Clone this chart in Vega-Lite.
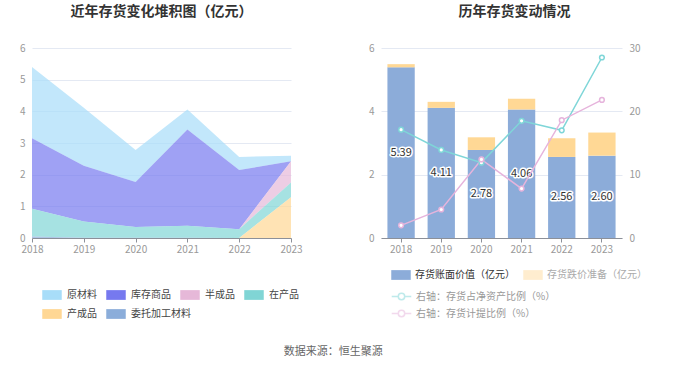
{
  "$schema": "https://vega.github.io/schema/vega-lite/v6.json",
  "autosize": {"type": "pad"},
  "padding": {"left": 19, "top": 5, "right": 0, "bottom": 0},
  "bounds": "flush",
  "spacing": 90,
  "background": "white",
  "resolve": {"scale": {"color": "independent", "stroke": "independent", "fill": "independent"}, "legend": {"color": "independent", "stroke": "independent", "fill": "independent"}},
  "config": {
    "font": "Noto Sans CJK SC",
    "view": {"stroke": null},
    "axis": {"labelColor": "#999999", "labelFontSize": 10, "domain": false, "ticks": false, "gridColor": "#e4e9f3", "title": null, "labelPadding": 7},
    "axisX": {"domain": true, "domainColor": "#8c9099", "ticks": true, "tickColor": "#8c9099", "tickSize": 4, "labelPadding": 2, "labelAngle": 0, "grid": false},
    "legend": {"labelFontSize": 10, "labelColor": "#444444", "title": null}
  },
  "title": {"text": "数据来源：恒生聚源", "orient": "bottom", "anchor": "middle", "fontSize": 11, "fontWeight": "normal", "color": "#666666", "offset": 26},
  "datasets": {
    "stock": [
      {"year": "2018", "type": "原材料", "value": 2.25},
      {"year": "2018", "type": "库存商品", "value": 2.23},
      {"year": "2018", "type": "半成品", "value": 0},
      {"year": "2018", "type": "在产品", "value": 0.87},
      {"year": "2018", "type": "产成品", "value": 0},
      {"year": "2018", "type": "委托加工材料", "value": 0.05},
      {"year": "2019", "type": "原材料", "value": 1.83},
      {"year": "2019", "type": "库存商品", "value": 1.76},
      {"year": "2019", "type": "半成品", "value": 0},
      {"year": "2019", "type": "在产品", "value": 0.51},
      {"year": "2019", "type": "产成品", "value": 0},
      {"year": "2019", "type": "委托加工材料", "value": 0.01},
      {"year": "2020", "type": "原材料", "value": 1.01},
      {"year": "2020", "type": "库存商品", "value": 1.42},
      {"year": "2020", "type": "半成品", "value": 0},
      {"year": "2020", "type": "在产品", "value": 0.34},
      {"year": "2020", "type": "产成品", "value": 0},
      {"year": "2020", "type": "委托加工材料", "value": 0.01},
      {"year": "2021", "type": "原材料", "value": 0.63},
      {"year": "2021", "type": "库存商品", "value": 3.04},
      {"year": "2021", "type": "半成品", "value": 0},
      {"year": "2021", "type": "在产品", "value": 0.38},
      {"year": "2021", "type": "产成品", "value": 0},
      {"year": "2021", "type": "委托加工材料", "value": 0.01},
      {"year": "2022", "type": "原材料", "value": 0.41},
      {"year": "2022", "type": "库存商品", "value": 1.87},
      {"year": "2022", "type": "半成品", "value": 0},
      {"year": "2022", "type": "在产品", "value": 0.28},
      {"year": "2022", "type": "产成品", "value": 0},
      {"year": "2022", "type": "委托加工材料", "value": 0},
      {"year": "2023", "type": "原材料", "value": 0.18},
      {"year": "2023", "type": "库存商品", "value": 0},
      {"year": "2023", "type": "半成品", "value": 0.67},
      {"year": "2023", "type": "在产品", "value": 0.46},
      {"year": "2023", "type": "产成品", "value": 1.29},
      {"year": "2023", "type": "委托加工材料", "value": 0}
    ],
    "bars": [
      {"year": "2018", "item": "存货账面价值（亿元）", "value": 5.39},
      {"year": "2018", "item": "存货跌价准备（亿元）", "value": 0.10},
      {"year": "2019", "item": "存货账面价值（亿元）", "value": 4.11},
      {"year": "2019", "item": "存货跌价准备（亿元）", "value": 0.19},
      {"year": "2020", "item": "存货账面价值（亿元）", "value": 2.78},
      {"year": "2020", "item": "存货跌价准备（亿元）", "value": 0.40},
      {"year": "2021", "item": "存货账面价值（亿元）", "value": 4.06},
      {"year": "2021", "item": "存货跌价准备（亿元）", "value": 0.34},
      {"year": "2022", "item": "存货账面价值（亿元）", "value": 2.56},
      {"year": "2022", "item": "存货跌价准备（亿元）", "value": 0.59},
      {"year": "2023", "item": "存货账面价值（亿元）", "value": 2.60},
      {"year": "2023", "item": "存货跌价准备（亿元）", "value": 0.73}
    ],
    "ratios": [
      {"year": "2018", "series": "右轴：存货占净资产比例（%）", "value": 17.1},
      {"year": "2019", "series": "右轴：存货占净资产比例（%）", "value": 13.9},
      {"year": "2020", "series": "右轴：存货占净资产比例（%）", "value": 11.9},
      {"year": "2021", "series": "右轴：存货占净资产比例（%）", "value": 18.5},
      {"year": "2022", "series": "右轴：存货占净资产比例（%）", "value": 17.0},
      {"year": "2023", "series": "右轴：存货占净资产比例（%）", "value": 28.5},
      {"year": "2018", "series": "右轴：存货计提比例（%）", "value": 2.0},
      {"year": "2019", "series": "右轴：存货计提比例（%）", "value": 4.5},
      {"year": "2020", "series": "右轴：存货计提比例（%）", "value": 12.4},
      {"year": "2021", "series": "右轴：存货计提比例（%）", "value": 7.8},
      {"year": "2022", "series": "右轴：存货计提比例（%）", "value": 18.6},
      {"year": "2023", "series": "右轴：存货计提比例（%）", "value": 21.8}
    ]
  },
  "hconcat": [
    {
      "width": 259,
      "height": 190,
      "title": {"text": "近年存货变化堆积图（亿元）", "anchor": "middle", "frame": "group", "fontSize": 14, "fontWeight": "bold", "color": "#333333", "offset": 24},
      "data": {"name": "stock"},
      "layer": [
        {
          "transform": [
            {"calculate": "indexof(['原材料','库存商品','半成品','在产品','产成品','委托加工材料'], datum.type)", "as": "ord"}
          ],
          "mark": {"type": "area", "opacity": 0.7},
          "encoding": {
            "x": {"field": "year", "type": "ordinal", "scale": {"type": "point", "padding": 0}},
            "y": {"field": "value", "type": "quantitative", "stack": "zero", "scale": {"domain": [0, 6]}, "axis": {"values": [0, 1, 2, 3, 4, 5, 6], "grid": true, "labelOverlap": false}},
            "fill": {
              "field": "type", "type": "nominal",
              "scale": {"domain": ["原材料", "库存商品", "半成品", "在产品", "产成品", "委托加工材料"], "range": ["#a8ddf9", "#7679ef", "#e6b8d8", "#80d5d5", "#ffd794", "#8badda"]},
              "legend": {"values": ["原材料", "库存商品", "半成品", "在产品"], "orient": "none", "legendX": 10, "legendY": 237, "direction": "horizontal", "columnPadding": 9, "labelOffset": 5, "symbolType": "M-1,-0.5H1V0.5H-1Z", "symbolSize": 380, "symbolOpacity": 1, "symbolStrokeWidth": 0}
            },
            "order": {"field": "ord", "sort": "descending"}
          }
        },
        {
          "transform": [
            {"filter": "datum.type === '产成品' || datum.type === '委托加工材料'"}
          ],
          "mark": {"type": "point", "filled": true, "opacity": 0},
          "encoding": {
            "x": {"field": "year", "type": "ordinal"},
            "y": {"field": "value", "type": "quantitative", "stack": null, "axis": {"values": [0, 1, 2, 3, 4, 5, 6], "grid": true, "labelOverlap": false}},
            "color": {
              "field": "type", "type": "nominal",
              "scale": {"domain": ["产成品", "委托加工材料"], "range": ["#ffd794", "#8badda"]},
              "legend": {"orient": "none", "legendX": 10, "legendY": 256, "direction": "horizontal", "columnPadding": 9, "labelOffset": 5, "symbolType": "M-1,-0.5H1V0.5H-1Z", "symbolSize": 380, "symbolOpacity": 1, "symbolStrokeWidth": 0}
            }
          }
        }
      ],
      "resolve": {"legend": {"color": "independent", "fill": "independent"}}
    },
    {
      "width": 241,
      "height": 190,
      "title": {"text": "历年存货变动情况", "anchor": "middle", "frame": "group", "fontSize": 14, "fontWeight": "bold", "color": "#333333", "offset": 24, "dx": 13},
      "layer": [
        {
          "data": {"name": "bars"},
          "layer": [
            {
              "mark": {"type": "bar"},
              "encoding": {
                "x": {"field": "year", "type": "ordinal", "scale": {"paddingInner": 0.32, "paddingOuter": 0.16}},
                "y": {"field": "value", "type": "quantitative", "stack": "zero", "scale": {"domain": [0, 6]}, "axis": {"values": [0, 2, 4, 6], "grid": true}},
                "color": {
                  "field": "item", "type": "nominal",
                  "scale": {"domain": ["存货账面价值（亿元）", "存货跌价准备（亿元）"], "range": ["#8cacd9", "#ffd895"]},
                  "legend": {"orient": "none", "legendX": 10, "legendY": 217, "direction": "horizontal", "columnPadding": 8, "labelOffset": 4, "symbolType": "M-1,-0.5H1V0.5H-1Z", "symbolSize": 380, "symbolStrokeWidth": 0,
                    "labelColor": {"expr": "datum.index === 0 ? '#333333' : '#aaaaaa'"},
                    "symbolOpacity": {"expr": "datum.index === 0 ? 1 : 0.45"}}
                },
                "order": {"field": "item", "sort": "ascending"}
              }
            },
            {
              "transform": [
                {"filter": "datum.item === '存货账面价值（亿元）'"},
                {"calculate": "datum.value / 2", "as": "mid"}
              ],
              "mark": {"type": "text", "fontSize": 11, "stroke": "white", "strokeWidth": 3, "strokeJoin": "round", "fill": "white"},
              "encoding": {
                "x": {"field": "year", "type": "ordinal"},
                "y": {"field": "mid", "type": "quantitative"},
                "text": {"field": "value", "type": "quantitative", "format": ".2f"}
              }
            },
            {
              "transform": [
                {"filter": "datum.item === '存货账面价值（亿元）'"},
                {"calculate": "datum.value / 2", "as": "mid"}
              ],
              "mark": {"type": "text", "fontSize": 11, "fill": "#333333"},
              "encoding": {
                "x": {"field": "year", "type": "ordinal"},
                "y": {"field": "mid", "type": "quantitative"},
                "text": {"field": "value", "type": "quantitative", "format": ".2f"}
              }
            }
          ]
        },
        {
          "data": {"name": "ratios"},
          "layer": [
            {
              "mark": {"type": "line", "strokeWidth": 1.5},
              "encoding": {
                "x": {"field": "year", "type": "ordinal"},
                "y": {"field": "value", "type": "quantitative", "scale": {"domain": [0, 30]}, "axis": {"orient": "right", "values": [0, 10, 20, 30], "grid": false}},
                "stroke": {
                  "field": "series", "type": "nominal",
                  "scale": {"domain": ["右轴：存货占净资产比例（%）", "右轴：存货计提比例（%）"], "range": ["#7fd6d8", "#e6b4dc"]},
                  "legend": {"orient": "none", "legendX": 10, "legendY": 238, "direction": "vertical", "rowPadding": -2, "labelOffset": 4, "labelColor": "#999999",
                    "symbolType": "M-1,0H-0.33M0.33,0H1M0.33,0A0.33,0.33,0,1,1,-0.33,0A0.33,0.33,0,1,1,0.33,0", "symbolSize": 380, "symbolFillColor": "white", "symbolStrokeWidth": 1.5, "symbolOpacity": 0.5}
                }
              }
            },
            {
              "mark": {"type": "point", "shape": "circle", "filled": true, "fill": "white", "strokeWidth": 1.5, "size": 22, "opacity": 1},
              "encoding": {
                "x": {"field": "year", "type": "ordinal"},
                "y": {"field": "value", "type": "quantitative"},
                "stroke": {"field": "series", "type": "nominal", "legend": null}
              }
            }
          ]
        }
      ],
      "resolve": {"scale": {"y": "independent"}}
    }
  ]
}
